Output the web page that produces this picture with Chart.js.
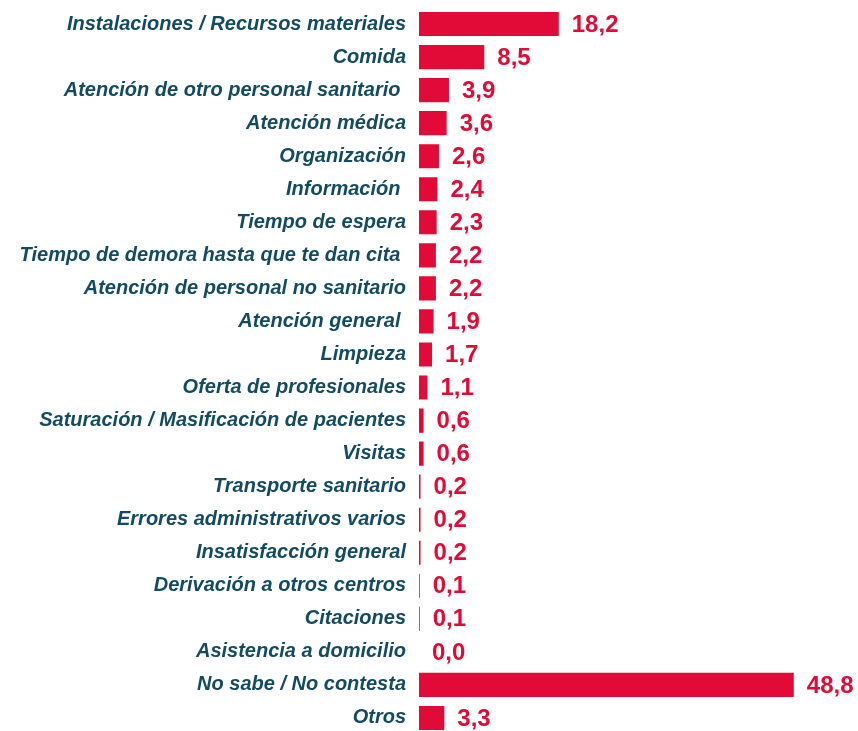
<!DOCTYPE html>
<html>
<head>
<meta charset="utf-8">
<script src="https://cdn.jsdelivr.net/npm/chart.js@4/dist/chart.umd.min.js"></script>
<style>
html,body{margin:0;padding:0;background:#fff;overflow:hidden;}
#wrap{position:absolute;left:0;top:0;width:858px;height:738px;}
</style>
</head>
<body>
<div id="wrap"><canvas id="c"></canvas></div>
<script>
const categories = [
  "Instalaciones / Recursos materiales",
  "Comida",
  "Atención de otro personal sanitario ",
  "Atención médica",
  "Organización",
  "Información ",
  "Tiempo de espera",
  "Tiempo de demora hasta que te dan cita ",
  "Atención de personal no sanitario",
  "Atención general ",
  "Limpieza",
  "Oferta de profesionales",
  "Saturación / Masificación de pacientes",
  "Visitas",
  "Transporte sanitario",
  "Errores administrativos varios",
  "Insatisfacción general",
  "Derivación a otros centros",
  "Citaciones",
  "Asistencia a domicilio",
  "No sabe / No contesta",
  "Otros"
];
const values = [18.2, 8.5, 3.9, 3.6, 2.6, 2.4, 2.3, 2.2, 2.2, 1.9, 1.7, 1.1, 0.6, 0.6, 0.2, 0.2, 0.2, 0.1, 0.1, 0.0, 48.8, 3.3];

const RED = '#E20A36';
const TEAL = '#134B63';

const valueLabels = {
  id: 'valueLabels',
  afterDatasetsDraw(chart) {
    const ctx = chart.ctx;
    const meta = chart.getDatasetMeta(0);
    ctx.save();
    ctx.fillStyle = RED;
    ctx.font = 'bold 24px "Liberation Sans", Arial, sans-serif';
    ctx.textAlign = 'left';
    ctx.textBaseline = 'middle';
    meta.data.forEach((bar, i) => {
      const txt = values[i].toFixed(1).replace('.', ',');
      ctx.fillText(txt, bar.x + 13, bar.y + 1);
    });
    ctx.restore();
  }
};

new Chart(document.getElementById('c'), {
  type: 'bar',
  data: {
    labels: categories,
    datasets: [{
      data: values,
      backgroundColor: RED,
      borderWidth: 0,
      categoryPercentage: 1,
      barPercentage: 0.73
    }]
  },
  options: {
    indexAxis: 'y',
    responsive: true,
    maintainAspectRatio: false,
    animation: false,
    layout: { padding: { top: 7.5, bottom: 3.5, left: 0, right: 55 } },
    plugins: { legend: { display: false }, tooltip: { enabled: false } },
    scales: {
      x: { display: false, min: 0, max: 50 },
      y: {
        grid: { display: false, drawTicks: false },
        border: { display: false },
        ticks: {
          color: TEAL,
          padding: 13,
          font: { family: '"Liberation Sans", Arial, sans-serif', size: 20, style: 'italic', weight: 'bold' }
        },
        afterFit(scale) {
          scale.width = 419;
          scale.paddingTop = 0;
          scale.paddingBottom = 0;
        }
      }
    }
  },
  plugins: [valueLabels]
});
</script>
</body>
</html>
